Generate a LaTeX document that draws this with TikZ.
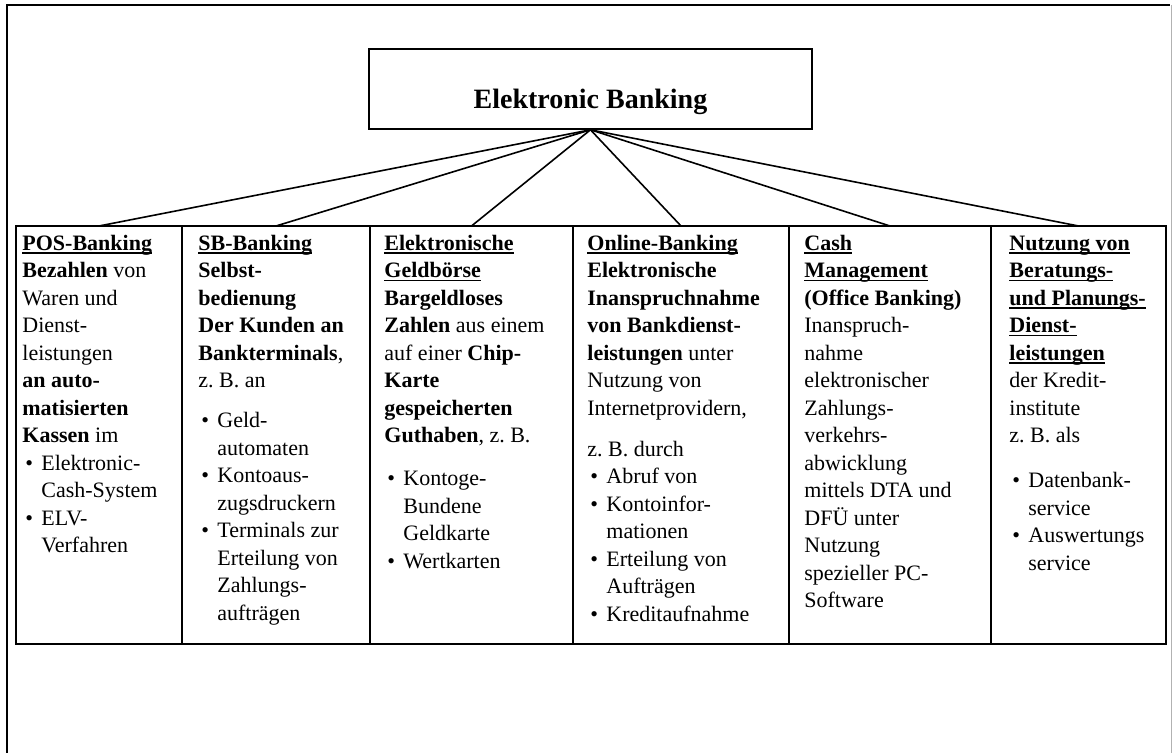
\documentclass[tikz,border=0pt]{standalone}
\usepackage{fontspec}
\setmainfont{Liberation Serif}
\usepackage{tikz}

\newcommand{\bul}{\hspace*{1.5pt}\makebox[8pt][l]{\textbullet}}
\newcommand{\ind}{\hspace*{9.5pt}}
\newsavebox{\ulbox}
\newcommand{\ul}[1]{\sbox{\ulbox}{\textbf{#1}}\rlap{\rule[-1.6pt]{\wd\ulbox}{0.6pt}}\usebox{\ulbox}}

\begin{document}
\begin{tikzpicture}[x=0.5pt,y=-0.5pt,
		cell/.style={draw, line width=0.7pt, minimum height=209pt, inner sep=0pt, outer sep=0pt},
		coltext/.style={anchor=north west, inner sep=0pt, align=left, font=\fontsize{11}{13.75}\selectfont},
		fan/.style={line width=0.8pt}]
				\useasboundingbox (0,0) rectangle (1173,753);
				
				% outer frame (open at the bottom)
				\draw[line width=1pt] (7,753) -- (7,5) -- (1170,5);
				\draw[gray!60, line width=0.6pt] (1171.5,5) -- (1171.5,753);
				
				% top box
				\node[draw, line width=0.8pt, minimum width=221.5pt, minimum height=40pt,
					text height=20pt, text depth=0pt,
					font=\fontsize{14}{16}\selectfont\bfseries] (eb) at (590.5,89) {Elektronic Banking};
				
				% table cells
				\foreach \n/\l/\r in
				{c1/16/182, c2/182/370, c3/370/573, c4/573/789, c5/789/991, c6/991/1166}{
					\node[cell, minimum width={(\r-\l)*0.5pt}] (\n) at ({(\l+\r)/2},435) {};
				}
				\draw[line width=1.2pt] (c1.north west) rectangle (c6.south east);
				
				\foreach \i in {1,...,6}{
					\draw[fan] (eb.south) -- (c\i.north);
				}
				
				% column texts
				\node[coltext] (t1) at (22,230.75) {\strut\ul{POS-Banking}\\
					\textbf{Bezahlen} von\\ Waren und\\ Dienst-\\ leistungen\\
					\textbf{an auto-}\\ \textbf{matisierten}\\ \textbf{Kassen} im\\
					\bul Elektronic-\\ \ind Cash-System\\ \bul ELV-\\ \ind Verfahren};
				\node[coltext] (t2) at (198,230.75) {\strut\ul{SB-Banking}\\
					\textbf{Selbst-}\\ \textbf{bedienung}\\ \textbf{Der Kunden an}\\
					\textbf{Bankterminals},\\ z.~B. an\\[6.25pt]
					\bul Geld-\\ \ind automaten\\ \bul Kontoaus-\\ \ind zugsdruckern\\
					\bul Terminals zur\\ \ind Erteilung von\\ \ind Zahlungs-\\ \ind aufträgen};
				\node[coltext] (t3) at (384,230.75) {\strut\ul{Elektronische}\\ \ul{Geldbörse}\\
					\textbf{Bargeldloses}\\ \textbf{Zahlen} aus einem\\ auf einer \textbf{Chip-}\\
					\textbf{Karte}\\ \textbf{gespeicherten}\\ \textbf{Guthaben}, z.~B.\\[7.75pt]
					\bul Kontoge-\\ \ind Bundene\\ \ind Geldkarte\\ \bul Wertkarten};
				\node[coltext] (t4) at (587,230.75) {\strut\ul{Online-Banking}\\
					\textbf{Elektronische}\\ \textbf{Inanspruchnahme}\\ \textbf{von Bankdienst-}\\
					\textbf{leistungen} unter\\ Nutzung von\\ Internetprovidern,\\[6.75pt]
					z.~B. durch\\ \bul Abruf von\\ \bul Kontoinfor-\\ \ind mationen\\
					\bul Erteilung von\\ \ind Aufträgen\\ \bul Kreditaufnahme};
				\node[coltext] (t5) at (804,230.75) {\strut\ul{Cash}\\ \ul{Management}\\
					\textbf{(Office Banking)}\\ Inanspruch-\\ nahme\\ elektronischer\\
					Zahlungs-\\ verkehrs-\\ abwicklung\\ mittels DTA und\\ DFÜ unter\\
					Nutzung\\ spezieller PC-\\ Software};
				\node[coltext] (t6) at (1009,230.75) {\strut\ul{Nutzung von}\\ \ul{Beratungs-}\\
					\ul{und Planungs-}\\ \ul{Dienst-}\\ \ul{leistungen}\\
					der Kredit-\\ institute\\ z.~B. als\\[8.75pt]
					\bul Datenbank-\\ \ind service\\ \bul Auswertungs\\ \ind service};
			\end{tikzpicture}
\end{document}
